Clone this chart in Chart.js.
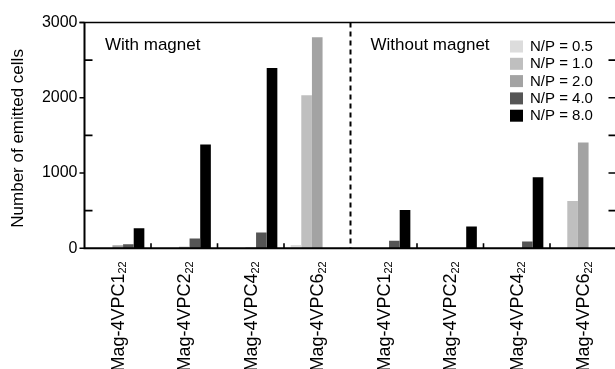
<!DOCTYPE html>
<html><head><meta charset="utf-8">
<script src="https://cdn.jsdelivr.net/npm/chart.js@4"></script>
<style>
html,body{margin:0;padding:0;background:#fff;overflow:hidden;}
#wrap{width:615px;height:369px;overflow:hidden;position:relative;}
canvas{display:block;}
</style>
</head><body>
<div id="wrap"><canvas id="c" width="620" height="369" style="width:620px;height:369px"></canvas></div>
<script>
// ---- data ----
const categories = ['Mag-4VPC1','Mag-4VPC2','Mag-4VPC4','Mag-4VPC6','Mag-4VPC1','Mag-4VPC2','Mag-4VPC4','Mag-4VPC6'];
const categorySubscript = '22';
const groupLabels = ['With magnet','Without magnet'];
const seriesNames = ['N/P = 0.5','N/P = 1.0','N/P = 2.0','N/P = 4.0','N/P = 8.0'];
const np05 = [0, 0, 0, 45, 0, 0, 0, 0];
const np10 = [0, 0, 0, 2035, 0, 0, 0, 630];
const np20 = [40, 20, 10, 2805, 0, 5, 0, 1405];
const np40 = [55, 130, 210, 0, 100, 5, 90, 0];
const np80 = [265, 1380, 2395, 0, 510, 288, 945, 0];
const yTickLabels = [0, 1000, 2000, 3000];
const yMinorTicks = [500, 1500, 2500];
const yTitle = 'Number of emitted cells';

const colors = ['#dcdcdc', '#bfbfbf', '#a3a3a3', '#555555', '#000000'];
const FONT = "'Liberation Sans', Arial, sans-serif";
const seriesValues = [np05, np10, np20, np40, np80];

const decor = {
  id: 'decor',
  afterDatasetsDraw(chart) {
    const ctx = chart.ctx, a = chart.chartArea;
    const xs = chart.scales.x, ys = chart.scales.y;
    ctx.save();
    ctx.strokeStyle = '#000';
    ctx.fillStyle = '#000';
    ctx.lineWidth = 2;
    // frame
    ctx.beginPath();
    ctx.moveTo(a.left, a.top); ctx.lineTo(a.left, a.bottom);
    ctx.moveTo(a.left - 1, a.bottom); ctx.lineTo(a.right, a.bottom);
    ctx.moveTo(a.right, a.top); ctx.lineTo(a.right, a.bottom);
    ctx.stroke();
    ctx.lineWidth = 1.6;
    ctx.beginPath();
    ctx.moveTo(a.left - 5, a.top); ctx.lineTo(a.right, a.top);
    ctx.stroke();
    ctx.lineWidth = 1.6;
    // left major ticks outward
    ctx.beginPath();
    yTickLabels.forEach(v => { const y = ys.getPixelForValue(v); ctx.moveTo(a.left - 5, y); ctx.lineTo(a.left, y); });
    // left minor ticks inward
    yMinorTicks.forEach(v => { const y = ys.getPixelForValue(v); ctx.moveTo(a.left, y); ctx.lineTo(a.left + 8, y); });
    // right ticks inward
    yMinorTicks.concat(yTickLabels.slice(1, -1)).forEach(v => { const y = ys.getPixelForValue(v); ctx.moveTo(a.right - 8, y); ctx.lineTo(a.right, y); });
    // bottom ticks at category boundaries
    for (let i = 1; i < categories.length; i++) {
      if (i === 4) continue;
      const x = (xs.getPixelForValue(i - 1) + xs.getPixelForValue(i)) / 2;
      ctx.moveTo(x, a.bottom); ctx.lineTo(x, a.bottom - 5);
    }
    ctx.stroke();
    // dashed separator
    const xd = (xs.getPixelForValue(3) + xs.getPixelForValue(4)) / 2;
    ctx.lineWidth = 2;
    ctx.setLineDash([5, 4]);
    ctx.beginPath(); ctx.moveTo(xd, a.top); ctx.lineTo(xd, a.bottom); ctx.stroke();
    ctx.setLineDash([]);
    // y tick labels
    ctx.font = '16px ' + FONT;
    ctx.textAlign = 'right'; ctx.textBaseline = 'middle';
    yTickLabels.forEach(v => ctx.fillText(String(v), a.left - 7, ys.getPixelForValue(v)));
    // y title
    ctx.save();
    ctx.translate(18, (a.top + a.bottom) / 2 + 3);
    ctx.rotate(-Math.PI / 2);
    ctx.font = '17px ' + FONT;
    ctx.textAlign = 'center'; ctx.textBaseline = 'middle';
    ctx.fillText(yTitle, 0, 0);
    ctx.restore();
    // group labels
    ctx.font = '17px ' + FONT;
    ctx.textAlign = 'left'; ctx.textBaseline = 'alphabetic';
    ctx.fillText(groupLabels[0], a.left + 20.5, 49.5);
    ctx.fillText(groupLabels[1], xd + 20, 49.5);
    // x labels with subscript
    categories.forEach((lab, i) => {
      const cx = xs.getPixelForValue(i);
      ctx.save();
      ctx.translate(cx + 6, a.bottom + 13);
      ctx.rotate(-Math.PI / 2);
      ctx.textAlign = 'right'; ctx.textBaseline = 'alphabetic';
      ctx.font = '11px ' + FONT;
      const sw = ctx.measureText(categorySubscript).width;
      ctx.fillText(categorySubscript, 0, 2.5);
      ctx.font = '18px ' + FONT;
      ctx.fillText(lab, -sw, 0);
      ctx.restore();
    });
    // legend
    ctx.font = '15px ' + FONT;
    ctx.textAlign = 'left'; ctx.textBaseline = 'middle';
    chart.data.datasets.forEach((ds, i) => {
      const y = 40.5 + i * 17.3;
      ctx.fillStyle = ds.backgroundColor;
      ctx.fillRect(510, y, 13, 12);
      ctx.fillStyle = '#000';
      ctx.fillText(ds.label, 530, y + 6.5);
    });
    ctx.restore();
  }
};

new Chart(document.getElementById('c'), {
  type: 'bar',
  data: {
    labels: categories,
    datasets: seriesNames.map((n, i) => ({
      label: n,
      data: seriesValues[i],
      backgroundColor: colors[i],
      borderWidth: 0,
      categoryPercentage: 0.8,
      barPercentage: 1.0
    }))
  },
  options: {
    responsive: false,
    animation: false,
    devicePixelRatio: 1,
    layout: { padding: { left: 84.5, right: 3.5, top: 22.5, bottom: 120.7 } },
    scales: {
      x: { display: false },
      y: { display: false, min: 0, max: 3000 }
    },
    plugins: { legend: { display: false }, tooltip: { enabled: false } }
  },
  plugins: [decor]
});
</script>
</body></html>
